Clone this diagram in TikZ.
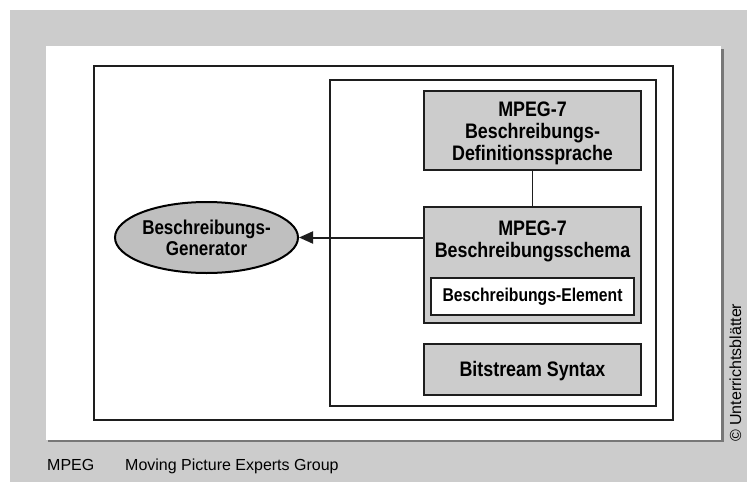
\documentclass[tikz,border=0pt]{standalone}
\usepackage{fontspec}
\setmainfont{Liberation Sans}
\newfontfamily\narrowsf[FakeStretch=0.85]{Liberation Sans}
\usepackage{tikz}
\usetikzlibrary{shapes.geometric,arrows.meta}

\definecolor{bggray}{HTML}{CCCCCC}
\definecolor{ellgray}{HTML}{BFBFBF}
\definecolor{shadowgray}{HTML}{777777}
\definecolor{linegray}{HTML}{1E1E1E}

\tikzset{
    frame/.style={draw=linegray, line width=1.6pt},
    graybox/.style={frame, fill=bggray, minimum width=217pt, inner sep=0pt},
    boxtext/.style={align=center, inner sep=0pt,
        font=\narrowsf\bfseries\fontsize{21}{22}\selectfont},
    whitebox/.style={frame, fill=white, minimum width=203pt, minimum height=37pt,
        inner sep=0pt, font=\narrowsf\bfseries\fontsize{18.5}{19}\selectfont},
    genellipse/.style={ellipse, draw=black, line width=2pt, fill=ellgray,
        minimum width=183pt, minimum height=71pt, inner sep=0pt, align=center,
        font=\narrowsf\bfseries\fontsize{20}{21}\selectfont},
    footnote/.style={font=\fontsize{16}{16}\selectfont, inner sep=0pt},
}

\begin{document}
\begin{tikzpicture}[x=1pt,y=-1pt]
    \useasboundingbox (0,0) rectangle (747,482);
    \fill[bggray] (10,10) rectangle (747,482);

    % white panel with its shadow
    \draw[shadowgray, line width=2.5pt] (48,441) -- (722.5,441) -- (722.5,49);
    \fill[white] (46,46) rectangle (721,440);
    \draw[frame] (94,66) rectangle (673,420);
    \draw[frame] (330,80) rectangle (656,406);

    \node[graybox, minimum height=79pt] (sprache) at (532.5,130.5) {};
    \node[boxtext] (sprachetitle) at (532.5,133.5)
        {MPEG-7\\Beschreibungs-\\Definitionssprache};
    \node[graybox, minimum height=116pt] (schema) at (532.5,265) {};
    \node[boxtext] (schematitle) at (532.5,241) {MPEG-7\\Beschreibungsschema};
    \node[whitebox] (element) at (532.5,296.5) {Beschreibungs-Element};
    \node[graybox, minimum height=51pt] (bitstream) at (532.5,369.5) {};
    \node[boxtext] (bitstreamtitle) at (532.5,371) {Bitstream Syntax};

    \node[genellipse] (generator) at (206.5,237.5) {Beschreibungs-\\Generator};

    \draw[frame, line width=1.3pt] (sprache) -- (schema);
    \draw[frame, line width=2pt, -{Triangle[length=14pt,width=12pt]}]
        (schema.west |- generator.east) -- (generator.east);

    \node[footnote, anchor=base west] (abbr) at (47,470) {MPEG};
    \node[footnote, anchor=base west] (abbrtext) at (125,470) {Moving Picture Experts Group};
    \node[footnote, rotate=90, anchor=base west] (copyright) at (741,442) {© Unterrichtsblätter};
\end{tikzpicture}
\end{document}
